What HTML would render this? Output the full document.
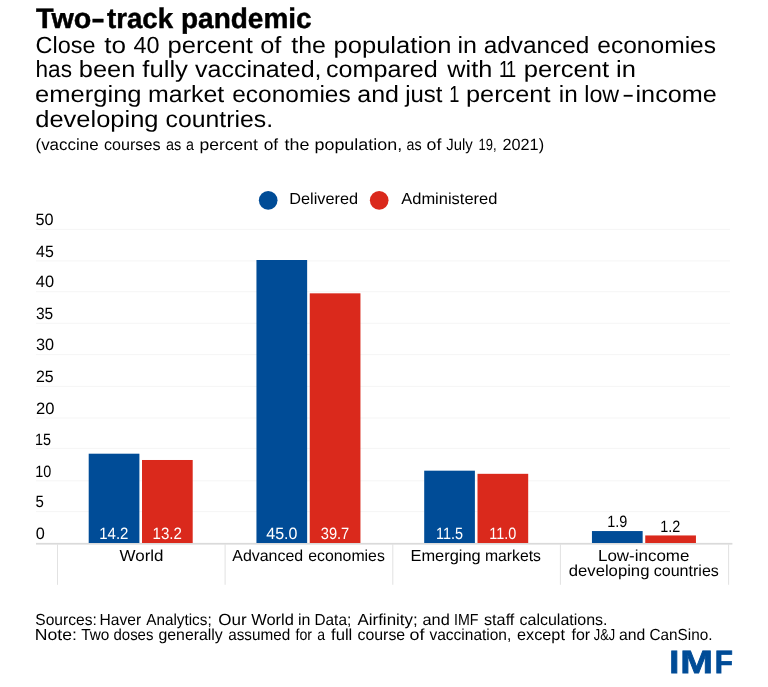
<!DOCTYPE html>
<html lang="en">
<head>
<meta charset="utf-8">
<title>Two-track pandemic</title>
<style>
html,body{margin:0;padding:0;background:#fff;}
body{width:768px;height:687px;position:relative;overflow:hidden;font-family:"Liberation Sans",sans-serif;color:#000;text-rendering:geometricPrecision;}
.t{position:absolute;left:0;white-space:nowrap;line-height:1;}
.t span{position:absolute;left:0;top:0;transform-origin:0 0;}
.title{font-weight:bold;color:#000;-webkit-text-stroke:0.45px #000;}
.sub{color:#000;}
.sm{color:#000;}
.w{color:#fff;}
.imf{font-weight:bold;color:#004c97;-webkit-text-stroke:0.8px #004c97;}
.chart{position:absolute;left:0;top:0;}
</style>
</head>
<body>
<svg class="chart" width="768" height="687" viewBox="0 0 768 687" aria-hidden="true">
<rect class="grid" x="36" y="228.90" width="694" height="1.0" fill="#f6f6f6"/>
<rect class="grid" x="36" y="260.40" width="694" height="1.0" fill="#f6f6f6"/>
<rect class="grid" x="36" y="291.20" width="694" height="1.0" fill="#f6f6f6"/>
<rect class="grid" x="36" y="322.80" width="694" height="1.0" fill="#f6f6f6"/>
<rect class="grid" x="36" y="354.10" width="694" height="1.0" fill="#f6f6f6"/>
<rect class="grid" x="36" y="385.90" width="694" height="1.0" fill="#f6f6f6"/>
<rect class="grid" x="36" y="417.50" width="694" height="1.0" fill="#f6f6f6"/>
<rect class="grid" x="36" y="447.90" width="694" height="1.0" fill="#f6f6f6"/>
<rect class="grid" x="36" y="480.30" width="694" height="1.0" fill="#f6f6f6"/>
<rect class="grid" x="36" y="511.10" width="694" height="1.0" fill="#f6f6f6"/>
<rect class="axis" x="36" y="542.9" width="696.4" height="1.70" fill="#dadada"/>
<rect class="sep" x="57.00" y="544" width="1.0" height="40.80" fill="#e2e2e2"/>
<rect class="sep" x="224.60" y="544" width="1.0" height="40.80" fill="#e2e2e2"/>
<rect class="sep" x="392.30" y="544" width="1.0" height="40.80" fill="#e2e2e2"/>
<rect class="sep" x="559.90" y="544" width="1.0" height="40.80" fill="#e2e2e2"/>
<rect class="sep" x="728.10" y="544" width="1.0" height="40.80" fill="#e2e2e2"/>
<circle class="dot" cx="268.2" cy="200.3" r="9.35" fill="#004c97"/>
<circle class="dot" cx="379.2" cy="200.3" r="9.35" fill="#da291c"/>
<rect class="bar" x="88.70" y="453.70" width="50.7" height="89.30" fill="#004c97"/>
<rect class="bar" x="142.00" y="459.99" width="50.7" height="83.01" fill="#da291c"/>
<rect class="bar" x="256.45" y="260.00" width="50.7" height="283.00" fill="#004c97"/>
<rect class="bar" x="309.75" y="293.33" width="50.7" height="249.67" fill="#da291c"/>
<rect class="bar" x="424.20" y="470.68" width="50.7" height="72.32" fill="#004c97"/>
<rect class="bar" x="477.50" y="473.82" width="50.7" height="69.18" fill="#da291c"/>
<rect class="bar" x="591.95" y="531.05" width="50.7" height="11.95" fill="#004c97"/>
<rect class="bar" x="645.25" y="535.45" width="50.7" height="7.55" fill="#da291c"/>
</svg>
<div class="t title" style="top:4px;font-size:28.2px"><span style="transform:translateX(36.00px) scaleX(1.020)">Two</span><span style="transform:translateX(91.25px) scaleX(1.442)">-</span><span style="transform:translateX(107.00px) scaleX(0.981)">track</span> <span style="transform:translateX(181.00px) scaleX(0.993)">pandemic</span></div>
<div class="t sub" style="top:34px;font-size:23.4px"><span style="transform:translateX(35.50px) scaleX(1.002)">Close</span> <span style="transform:translateX(104.25px) scaleX(1.115)">to</span> <span style="transform:translateX(133.50px) scaleX(1.001)">40</span> <span style="transform:translateX(167.50px) scaleX(1.094)">percent</span> <span style="transform:translateX(260.25px) scaleX(1.084)">of</span> <span style="transform:translateX(291.25px) scaleX(1.067)">the</span> <span style="transform:translateX(333.50px) scaleX(1.093)">population</span> <span style="transform:translateX(457.50px) scaleX(1.070)">in</span> <span style="transform:translateX(483.75px) scaleX(1.041)">advanced</span> <span style="transform:translateX(597.25px) scaleX(1.050)">economies</span></div>
<div class="t sub" style="top:58px;font-size:23.4px"><span style="transform:translateX(35.50px) scaleX(0.966)">has</span> <span style="transform:translateX(78.75px) scaleX(1.088)">been</span> <span style="transform:translateX(142.25px) scaleX(1.099)">fully</span> <span style="transform:translateX(195.00px) scaleX(1.069)">vaccinated,</span> <span style="transform:translateX(326.00px) scaleX(1.075)">compared</span> <span style="transform:translateX(447.25px) scaleX(1.081)">with</span> <span style="transform:translateX(499.00px) scaleX(0.780);letter-spacing:-2.30px">11</span> <span style="transform:translateX(523.75px) scaleX(1.095)">percent</span> <span style="transform:translateX(616.00px) scaleX(1.089)">in</span></div>
<div class="t sub" style="top:83px;font-size:23.4px"><span style="transform:translateX(35.00px) scaleX(1.093)">emerging</span> <span style="transform:translateX(148.00px) scaleX(1.066)">market</span> <span style="transform:translateX(232.25px) scaleX(1.047)">economies</span> <span style="transform:translateX(357.25px) scaleX(1.069)">and</span> <span style="transform:translateX(405.25px) scaleX(1.022)">just</span> <span style="transform:translateX(449.25px) scaleX(0.780)">1</span> <span style="transform:translateX(466.00px) scaleX(1.082)">percent</span> <span style="transform:translateX(558.75px) scaleX(1.039)">in</span> <span style="transform:translateX(584.25px) scaleX(0.995)">low</span><span style="transform:translateX(622.00px) scaleX(1.583)">-</span><span style="transform:translateX(635.50px) scaleX(1.078)">income</span></div>
<div class="t sub" style="top:108px;font-size:23.4px"><span style="transform:translateX(35.25px) scaleX(1.089)">developing</span> <span style="transform:translateX(165.50px) scaleX(1.061)">countries.</span></div>
<div class="t sm" style="top:137px;font-size:16.2px"><span style="transform:translateX(35.50px) scaleX(1.046)">(vaccine</span> <span style="transform:translateX(104.00px) scaleX(0.996)">courses</span> <span style="transform:translateX(166.00px) scaleX(0.891)">as</span> <span style="transform:translateX(186.00px) scaleX(0.880)">a</span> <span style="transform:translateX(199.50px) scaleX(1.080)">percent</span> <span style="transform:translateX(263.75px) scaleX(1.069)">of</span> <span style="transform:translateX(284.50px) scaleX(1.105)">the</span> <span style="transform:translateX(314.50px) scaleX(1.106)">population,</span> <span style="transform:translateX(406.50px) scaleX(0.880)">as</span> <span style="transform:translateX(426.50px) scaleX(1.099)">of</span> <span style="transform:translateX(446.25px) scaleX(0.919)">July</span> <span style="transform:translateX(478.50px) scaleX(0.800)">19,</span> <span style="transform:translateX(502.50px) scaleX(1.004)">2021)</span></div>
<div class="t sm" style="top:192px;font-size:16.0px"><span style="transform:translateX(289.25px) scaleX(1.020)">Delivered</span></div>
<div class="t sm" style="top:192px;font-size:16.0px"><span style="transform:translateX(401.25px) scaleX(1.029)">Administered</span></div>
<div class="t sm" style="top:212px;font-size:16.4px"><span style="transform:translateX(35.50px) scaleX(0.990)">50</span></div>
<div class="t sm" style="top:244px;font-size:16.4px"><span style="transform:translateX(36.00px) scaleX(0.974)">45</span></div>
<div class="t sm" style="top:274px;font-size:16.4px"><span style="transform:translateX(35.75px) scaleX(1.002)">40</span></div>
<div class="t sm" style="top:306px;font-size:16.4px"><span style="transform:translateX(36.00px) scaleX(0.946)">35</span></div>
<div class="t sm" style="top:337px;font-size:16.4px"><span style="transform:translateX(36.00px) scaleX(0.992)">30</span></div>
<div class="t sm" style="top:369px;font-size:16.4px"><span style="transform:translateX(36.00px) scaleX(0.973)">25</span></div>
<div class="t sm" style="top:401px;font-size:16.4px"><span style="transform:translateX(36.00px) scaleX(1.013)">20</span></div>
<div class="t sm" style="top:432px;font-size:16.4px"><span style="transform:translateX(35.00px) scaleX(0.880)">15</span></div>
<div class="t sm" style="top:464px;font-size:16.4px"><span style="transform:translateX(35.25px) scaleX(0.880)">10</span></div>
<div class="t sm" style="top:494px;font-size:16.4px"><span style="transform:translateX(35.50px) scaleX(0.917)">5</span></div>
<div class="t sm" style="top:526px;font-size:16.4px"><span style="transform:translateX(35.75px) scaleX(0.993)">0</span></div>
<div class="t sm w" style="top:526px;font-size:16.4px"><span style="transform:translateX(99.25px) scaleX(0.915)">14.2</span></div>
<div class="t sm w" style="top:526px;font-size:16.4px"><span style="transform:translateX(152.50px) scaleX(0.919)">13.2</span></div>
<div class="t sm w" style="top:526px;font-size:16.4px"><span style="transform:translateX(266.25px) scaleX(0.976)">45.0</span></div>
<div class="t sm w" style="top:526px;font-size:16.4px"><span style="transform:translateX(320.75px) scaleX(0.893)">39.7</span></div>
<div class="t sm w" style="top:526px;font-size:16.4px"><span style="transform:translateX(436.00px) scaleX(0.880)">11.5</span></div>
<div class="t sm w" style="top:526px;font-size:16.4px"><span style="transform:translateX(489.25px) scaleX(0.880)">11.0</span></div>
<div class="t sm" style="top:514px;font-size:16.4px"><span style="transform:translateX(607.25px) scaleX(0.880)">1.9</span></div>
<div class="t sm" style="top:519px;font-size:16.4px"><span style="transform:translateX(660.25px) scaleX(0.880)">1.2</span></div>
<div class="t sm" style="top:549px;font-size:16.0px"><span style="transform:translateX(119.50px) scaleX(1.060)">World</span></div>
<div class="t sm" style="top:549px;font-size:16.0px"><span style="transform:translateX(232.25px) scaleX(0.997)">Advanced</span> <span style="transform:translateX(308.25px) scaleX(0.990)">economies</span></div>
<div class="t sm" style="top:549px;font-size:16.0px"><span style="transform:translateX(410.50px) scaleX(1.025)">Emerging</span> <span style="transform:translateX(485.00px) scaleX(0.984)">markets</span></div>
<div class="t sm" style="top:549px;font-size:16.0px"><span style="transform:translateX(598.00px) scaleX(1.060)">Low-income</span></div>
<div class="t sm" style="top:564px;font-size:16.0px"><span style="transform:translateX(568.75px) scaleX(1.042)">developing</span> <span style="transform:translateX(653.75px) scaleX(1.003)">countries</span></div>
<div class="t sm" style="top:613px;font-size:16.0px"><span style="transform:translateX(35.25px) scaleX(0.974)">Sources:</span> <span style="transform:translateX(99.50px) scaleX(0.975)">Haver</span> <span style="transform:translateX(146.25px) scaleX(0.955)">Analytics;</span> <span style="transform:translateX(218.25px) scaleX(1.065)">Our</span> <span style="transform:translateX(251.25px) scaleX(1.026)">World</span> <span style="transform:translateX(298.00px) scaleX(0.995)">in</span> <span style="transform:translateX(314.50px) scaleX(0.959)">Data;</span> <span style="transform:translateX(357.50px) scaleX(1.057)">Airfinity;</span> <span style="transform:translateX(422.50px) scaleX(1.019)">and</span> <span style="transform:translateX(454.00px) scaleX(0.887)">IMF</span> <span style="transform:translateX(484.00px) scaleX(1.014)">staff</span> <span style="transform:translateX(519.50px) scaleX(1.000)">calculations.</span></div>
<div class="t sm" style="top:628px;font-size:16.0px"><span style="transform:translateX(34.75px) scaleX(1.102)">Note:</span> <span style="transform:translateX(81.25px) scaleX(0.959)">Two</span> <span style="transform:translateX(113.50px) scaleX(0.935)">doses</span> <span style="transform:translateX(158.50px) scaleX(0.990)">generally</span> <span style="transform:translateX(228.25px) scaleX(0.954)">assumed</span> <span style="transform:translateX(295.50px) scaleX(0.886)">for</span> <span style="transform:translateX(317.25px) scaleX(0.880)">a</span> <span style="transform:translateX(331.00px) scaleX(1.041)">full</span> <span style="transform:translateX(357.50px) scaleX(0.992)">course</span> <span style="transform:translateX(409.50px) scaleX(1.116)">of</span> <span style="transform:translateX(429.50px) scaleX(0.968)">vaccination,</span> <span style="transform:translateX(517.00px) scaleX(1.017)">except</span> <span style="transform:translateX(571.50px) scaleX(0.996)">for</span> <span style="transform:translateX(593.75px) scaleX(0.800)">J&amp;J</span> <span style="transform:translateX(619.00px) scaleX(0.984)">and</span> <span style="transform:translateX(649.50px) scaleX(0.957)">CanSino.</span></div>
<div class="t imf" style="top:646px;font-size:32.2px"><span style="transform:translateX(669.25px) scaleX(1.119)">I</span><span style="transform:translateX(680.25px) scaleX(1.220)">M</span><span style="transform:translateX(714.75px) scaleX(0.923)">F</span></div>
</body>
</html>
